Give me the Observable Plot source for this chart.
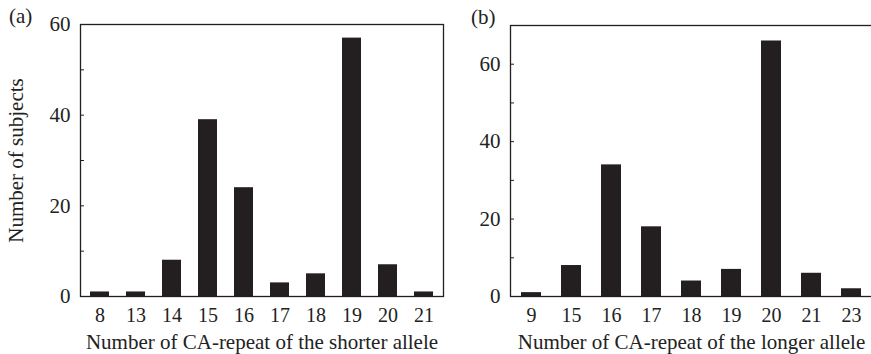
<!DOCTYPE html>
<html>
<head>
<meta charset="utf-8">
<script src="https://cdn.jsdelivr.net/npm/d3@7"></script>
<script src="https://cdn.jsdelivr.net/npm/@observablehq/plot@0.6"></script>
<style>
  html, body { margin: 0; padding: 0; background: #fff; overflow: hidden; }
  #wrap { position: relative; width: 871px; height: 354px; overflow: hidden; font-family: "Liberation Serif", serif; color: #222; }
  #wrap svg { position: absolute; top: 0; }
  .panel-tag { position: absolute; font-size: 21px; font-family: "Liberation Serif", serif; color: #222; }
</style>
</head>
<body>
<div id="wrap">
  <span class="panel-tag" style="left:9px; top:4px;">(a)</span>
  <span class="panel-tag" style="left:471px; top:5px;">(b)</span>
</div>
<script>
const catsA = ["8","13","14","15","16","17","18","19","20","21"];
const valsA = [1,1,8,39,24,3,5,57,7,1];
const catsB = ["9","15","16","17","18","19","20","21","23"];
const valsB = [1,8,34,18,4,7,66,6,2];
const ticksA = [0,10,20,30,40,50,60];
const ticksB = [0,10,20,30,40,50,60,70];

const dataA = catsA.map((c, i) => ({c, v: valsA[i]}));
const dataB = catsB.map((c, i) => ({c, v: valsB[i]}));

const ink = "#231f20";
const style = {fontFamily: "Liberation Serif, serif", fontSize: "21px", color: "#222", background: "transparent", overflow: "visible"};

function panel({data, cats, yDomain, ticks, width, marginLeft, marginRight, marginTop, xLabel, yLabel, pad}) {
  const marks = [
    Plot.barY(data, {x: "c", y: "v", fill: ink}),
    Plot.axisY({ticks, tickSize: -4, tickPadding: 14, tickFormat: d => d % 20 === 0 ? d : "", stroke: ink,
      label: yLabel, labelAnchor: "center", labelOffset: 72, labelArrow: "none", fontSize: 21}),
    Plot.axisX({tickSize: 0, tickPadding: 11, label: null, fontSize: 20}),
    Plot.text([xLabel], {frameAnchor: "bottom", dy: 46, lineAnchor: "middle", fontSize: 21, fill: "#222"}),
    Plot.frame({stroke: ink, strokeWidth: 1.3})
  ];
  return Plot.plot({
    width, height: 354, marginLeft, marginRight, marginTop, marginBottom: 58,
    style,
    x: {domain: cats, paddingInner: pad, paddingOuter: pad / 2, label: null},
    y: {domain: yDomain, label: null},
    marks
  });
}

const a = panel({data: dataA, cats: catsA, yDomain: [0, 60], ticks: ticksA, width: 460, marginLeft: 80, marginRight: 17, marginTop: 24,
  xLabel: "Number of CA-repeat of the shorter allele", yLabel: "Number of subjects", pad: 0.46});
const b = panel({data: dataB, cats: catsB, yDomain: [0, 70], ticks: ticksB, width: 432, marginLeft: 70, marginRight: 0, marginTop: 25,
  xLabel: "Number of CA-repeat of the longer allele", yLabel: null, pad: 0.49});
a.style.left = "0px";
b.style.left = "440px";
const wrap = document.getElementById("wrap");
wrap.appendChild(a);
wrap.appendChild(b);
</script>
</body>
</html>
